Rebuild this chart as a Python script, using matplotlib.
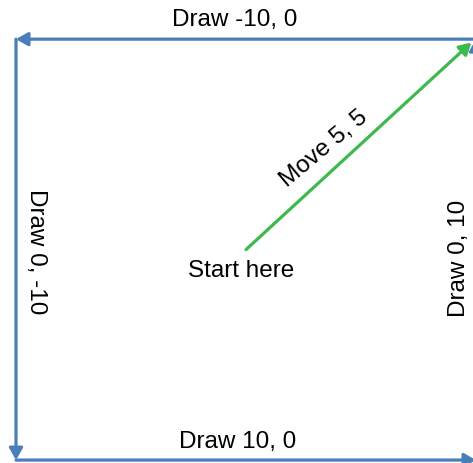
from matplotlib import pyplot as plt

# path of the drawing commands (start, then each segment end)
start = (0, 0)
move_to = (4.9, 4.92)
draw_pts = [(5, 5), (-5, 5), (-5, -5), (5, -5), (5, 5)]
draw_labels = ['Draw -10, 0', 'Draw 0, -10', 'Draw 10, 0', 'Draw 0, 10']

BLUE = '#4a7ebb'
GREEN = '#3dba4e'

plt.rcParams['font.family'] = ['Liberation Sans', 'DejaVu Sans']

fig = plt.figure(figsize=(4.73, 4.63), dpi=100)
ax = fig.add_axes([0, 0, 1, 1])
ax.set_xlim(-5.348, 4.935)
ax.set_ylim(-5.07, 5.93)
ax.axis('off')

head = '-|>,head_length=0.7,head_width=0.4'

# blue drawing segments
for p0, p1 in zip(draw_pts[:-1], draw_pts[1:]):
    ax.annotate('', xy=p1, xytext=p0, annotation_clip=False,
                arrowprops=dict(arrowstyle=head, color=BLUE, lw=2.3,
                                shrinkA=0, shrinkB=0))

# green move
ax.annotate('', xy=move_to, xytext=start, annotation_clip=False,
            arrowprops=dict(arrowstyle=head, color=GREEN, lw=2.3,
                            shrinkA=0, shrinkB=0))

fs = 17.5
ax.text(-0.1, -0.653, 'Start here', ha='center', va='baseline', fontsize=fs)
ax.text(1.7, 2.39, 'Move 5, 5', ha='center', va='center', fontsize=fs, rotation=40)
ax.text(-0.24, 5.31, draw_labels[0], ha='center', va='baseline', fontsize=fs)
ax.text(-4.565, -0.04, draw_labels[1], ha='center', va='center', fontsize=fs, rotation=-90)
ax.text(-0.19, -4.715, draw_labels[2], ha='center', va='baseline', fontsize=fs)
ax.text(4.63, -0.2, draw_labels[3], ha='center', va='center', fontsize=fs, rotation=90)

fig.savefig('out.png', dpi=100)
